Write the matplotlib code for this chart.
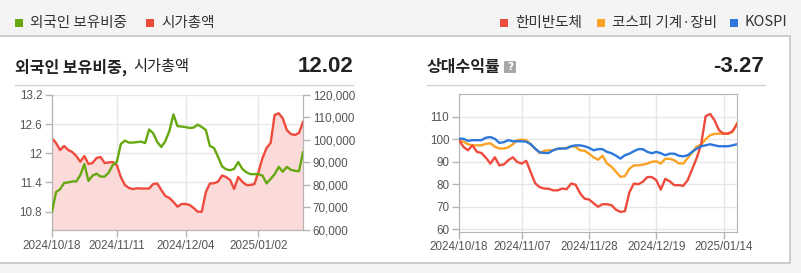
import matplotlib
matplotlib.use("Agg")
import matplotlib.pyplot as plt
from matplotlib.patches import Rectangle, FancyBboxPatch
from matplotlib.ticker import FuncFormatter
import pandas as pd

plt.rcParams['font.family'] = ['Noto Sans CJK KR', 'DejaVu Sans']

# trading days (KRX): weekdays minus 12/25, 12/31, 1/1
holidays = ['2024-12-25', '2024-12-31', '2025-01-01']
days = pd.bdate_range('2024-10-18', '2025-01-17')
days = days[~days.isin(pd.to_datetime(holidays))]
day_str = [d.strftime('%Y/%m/%d') for d in days]
x = list(range(len(day_str)))

# left chart
foreign_ratio = [10.80, 11.20, 11.26, 11.39, 11.40, 11.42, 11.42, 11.55, 11.78, 11.43,
                 11.54, 11.58, 11.52, 11.52, 11.60, 11.76, 11.82, 12.19, 12.26, 12.22,
                 12.22, 12.23, 12.24, 12.21, 12.49, 12.41, 12.23, 12.13, 12.25, 12.46,
                 12.80, 12.56, 12.55, 12.54, 12.52, 12.53, 12.59, 12.54, 12.48, 12.15,
                 12.11, 11.93, 11.73, 11.67, 11.65, 11.68, 11.82, 11.68, 11.61, 11.57,
                 11.57, 11.57, 11.54, 11.38, 11.47, 11.57, 11.72, 11.62, 11.72, 11.66,
                 11.64, 11.63, 12.02]
market_cap = [100760, 98670, 95560, 97330, 95560, 94670, 92890, 90360, 92890, 89330,
              89780, 92000, 92440, 89780, 90000, 90220, 88890, 83560, 80000, 78670,
              78220, 78530, 78440, 78440, 78440, 80440, 80670, 77780, 75110, 74220,
              72440, 70360, 71560, 71560, 71110, 69780, 68130, 68130, 76890, 80670,
              80760, 81470, 84220, 83560, 82220, 78220, 83560, 81470, 80000, 80000,
              80440, 85780, 92000, 96440, 98670, 111110, 111870, 109640, 104440, 102670,
              102220, 103110, 108000]
left_ticks = ['2024/10/18', '2024/11/11', '2024/12/04', '2025/01/02']
ratio_ticks = [10.8, 11.4, 12, 12.6, 13.2]
cap_ticks = [60000, 70000, 80000, 90000, 100000, 110000, 120000]

# right chart
hanmi = [99.6, 96.6, 95.1, 97.3, 94.4, 93.9, 91.8, 89.2, 92.0, 88.4,
         88.8, 90.7, 92.0, 89.9, 89.2, 90.4, 85.3, 80.4, 78.7, 78.1,
         78.0, 77.3, 77.3, 78.1, 77.8, 80.3, 79.8, 76.0, 73.6, 73.2,
         71.6, 70.0, 71.1, 71.1, 70.7, 68.7, 67.7, 68.0, 76.4, 80.3,
         80.0, 81.1, 83.2, 83.2, 81.8, 77.6, 82.4, 81.3, 79.6, 79.6,
         79.3, 81.8, 86.7, 91.6, 97.8, 110.2, 111.3, 108.4, 104.0, 102.5,
         102.5, 103.6, 106.7]
machinery = [99.6, 98.9, 97.8, 97.3, 97.3, 97.3, 98.0, 98.2, 96.7, 95.9,
             95.9, 96.4, 97.8, 99.6, 99.8, 99.6, 97.8, 95.9, 93.8, 94.9,
             95.1, 95.1, 95.8, 95.9, 96.2, 96.9, 96.7, 95.1, 94.9, 93.6,
             92.0, 90.9, 92.7, 89.3, 87.8, 85.6, 83.3, 83.6, 86.9, 88.4,
             88.4, 88.7, 89.2, 90.0, 90.2, 89.2, 91.3, 91.3, 90.7, 89.3,
             89.2, 91.6, 94.2, 96.7, 97.6, 100.0, 101.8, 102.4, 102.5, 102.5,
             102.5, 103.2, 107.2]
kospi = [100.3, 100.2, 99.3, 99.6, 99.6, 99.6, 100.7, 101.0, 100.2, 98.4,
         98.7, 99.6, 99.1, 99.1, 99.1, 98.9, 97.8, 95.8, 94.2, 93.9,
         93.9, 95.1, 95.8, 95.9, 95.9, 96.9, 97.3, 97.3, 96.9, 96.2,
         95.1, 95.6, 95.6, 94.4, 93.8, 92.7, 91.4, 92.9, 93.6, 94.7,
         95.6, 95.6, 94.4, 93.8, 94.4, 93.8, 92.9, 93.6, 93.6, 92.7,
         92.4, 92.9, 94.4, 95.8, 96.9, 97.3, 97.8, 97.3, 96.9, 96.9,
         96.9, 97.3, 97.8]
right_ticks = ['2024/10/18', '2024/11/07', '2024/11/28', '2024/12/19', '2025/01/14']
ret_ticks = [60, 70, 80, 90, 100, 110]

GREEN = '#66a80f'
RED = '#ef4b3d'
ORANGE = '#f9a324'
BLUE = '#2d78dc'
GRID = '#e6e6e6'
SPINE = '#b4b4b4'
LABEL = '#555555'

W, H = 801, 273
fig = plt.figure(figsize=(W / 100, H / 100), dpi=100, facecolor='#f4f4f4')


def fx(px):
    return px / W


def fy(py):
    return 1 - py / H


# white panel with border
fig.patches.append(Rectangle((fx(-2), fy(263)), fx(792), (263 - 36) / H, transform=fig.transFigure,
                             facecolor='white', edgecolor='#c4c4c4', lw=1.2, zorder=-5))

# top legends
def legend_item(px, color, label):
    fig.patches.append(Rectangle((fx(px), fy(26.5)), fx(7.5), 7.5 / H, transform=fig.transFigure,
                                 facecolor=color, edgecolor='none'))
    fig.text(fx(px + 15), fy(22.5), label, fontsize=10.5, color='#333333', va='center', ha='left')


legend_item(15, GREEN, '외국인 보유비중')
legend_item(146, RED, '시가총액')
legend_item(500, RED, '한미반도체')
legend_item(597, ORANGE, '코스피 기계·장비')
legend_item(730, BLUE, 'KOSPI')

# titles
fig.text(fx(15), fy(67), '외국인 보유비중,', fontsize=11.5, fontweight='bold', color='#222222', va='center')
fig.text(fx(133), fy(67), '시가총액', fontsize=11, color='#222222', va='center')
fig.text(fx(353), fy(67), '12.02', fontsize=16, fontweight='bold', color='#222222', va='center',
         ha='right', family='Liberation Sans')
fig.text(fx(427), fy(67), '상대수익률', fontsize=11.5, fontweight='bold', color='#222222', va='center')
fig.patches.append(FancyBboxPatch((fx(504), fy(73)), fx(12), 12 / H, boxstyle='round,pad=0,rounding_size=0.002',
                                  transform=fig.transFigure, facecolor='#a8a8a8', edgecolor='none'))
fig.text(fx(510), fy(67), '?', fontsize=7.5, fontweight='bold', color='white', va='center', ha='center',
         family='DejaVu Sans')
fig.text(fx(764), fy(67), '-3.27', fontsize=16, fontweight='bold', color='#222222', va='center',
         ha='right', family='Liberation Sans')
fig.add_artist(plt.Line2D([fx(15), fx(353)], [fy(84.5), fy(84.5)], transform=fig.transFigure,
                          color='#d2d2d2', lw=1))
fig.add_artist(plt.Line2D([fx(427), fx(765)], [fy(84.5), fy(84.5)], transform=fig.transFigure,
                          color='#d2d2d2', lw=1))


def style_axis(ax):
    for s in ax.spines.values():
        s.set_color(SPINE)
    ax.tick_params(colors=SPINE, labelcolor=LABEL, labelsize=8.4, length=5, width=1, pad=2)
    for lab in ax.get_xticklabels() + ax.get_yticklabels():
        lab.set_family('Liberation Sans')


# left chart
axL = fig.add_axes([fx(52), fy(230), fx(251), 135 / H])
axR = axL.twinx()
axR.fill_between(x, market_cap, 60000, color='#fbdada', lw=0, zorder=1)
axR.plot(x, market_cap, color=RED, lw=1.7, zorder=3)
axR.set_ylim(60000, 120000)
axR.set_yticks(cap_ticks)
axR.yaxis.set_major_formatter(FuncFormatter(lambda v, p: f'{int(v):,}'))
axL.plot(x, foreign_ratio, color=GREEN, lw=1.7, zorder=4)
axL.set_ylim(10.42, 13.2)
axL.set_yticks(ratio_ticks)
axL.set_yticklabels(['10.8', '11.4', '12', '12.6', '13.2'])
axL.set_xlim(0, len(x) - 1)
axL.set_xticks([day_str.index(d) for d in left_ticks])
axL.set_xticklabels(left_ticks)
axL.set_zorder(axR.get_zorder() + 1)
axL.patch.set_visible(False)
# grid on the back axis so it sits behind the fill
for v in ratio_ticks:
    axR.axhline(60000 + (v - 10.42) / (13.2 - 10.42) * 60000, color=GRID, lw=1, zorder=0)
for d in left_ticks:
    axR.axvline(day_str.index(d), color=GRID, lw=1, zorder=0)
axR.set_xlim(0, len(x) - 1)
axL.spines['top'].set_visible(False)
axR.spines['top'].set_visible(False)
style_axis(axL)
style_axis(axR)

# right chart
ax2 = fig.add_axes([fx(459), fy(231.7), fx(278), 137.4 / H])
ax2.grid(True, color=GRID, lw=1)
ax2.set_axisbelow(True)
ax2.plot(x, machinery, color=ORANGE, lw=1.7, zorder=3)
ax2.plot(x, hanmi, color=RED, lw=1.7, zorder=4)
ax2.plot(x, kospi, color=BLUE, lw=1.7, zorder=5)
ax2.set_ylim(58.9, 120)
ax2.set_yticks(ret_ticks)
ax2.set_xlim(0, len(x) - 1)
ax2.set_xticks([day_str.index(d) for d in right_ticks])
ax2.set_xticklabels(right_ticks)
style_axis(ax2)

fig.savefig('out.png', dpi=100, facecolor=fig.get_facecolor())
